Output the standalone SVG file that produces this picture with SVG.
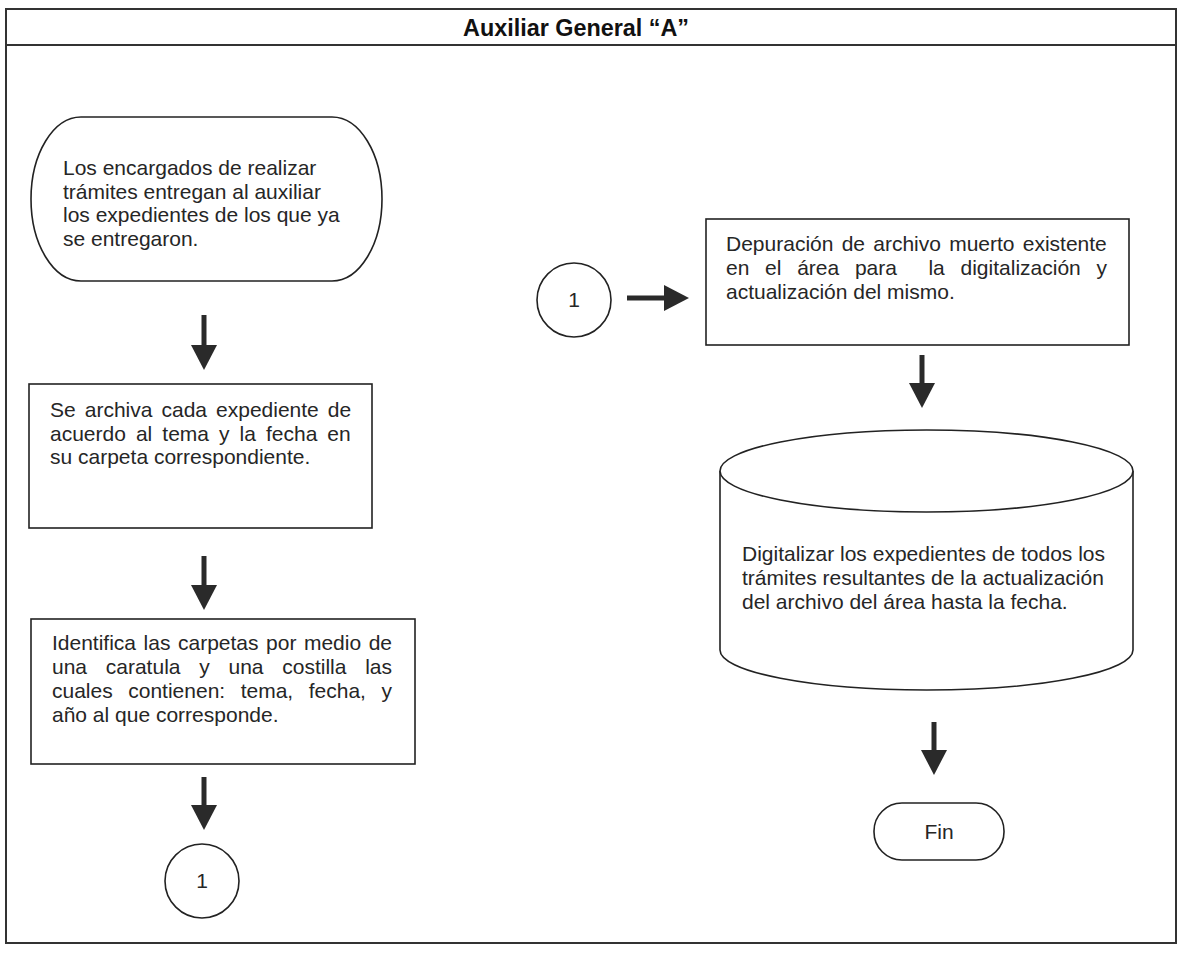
<svg xmlns="http://www.w3.org/2000/svg" width="1179" height="953" viewBox="0 0 1179 953">
  <style>
    .frame { fill: none; stroke: #333; stroke-width: 2; }
    .shape { fill: #fff; stroke: #222; stroke-width: 1.6; }
    .txt { font-family: "Liberation Sans", Arial, sans-serif; font-size: 21px; fill: #262626; }
    .title { font-family: "Liberation Sans", Arial, sans-serif; font-size: 24px; font-weight: bold; fill: #111; }
    .conn { stroke: #2a2a2a; stroke-width: 5; fill: none; }
  </style>
  <defs>
    <marker id="head" markerUnits="userSpaceOnUse" markerWidth="26" markerHeight="26" refX="0" refY="13" orient="auto">
      <path d="M0,0 L25,13 L0,26 Z" fill="#2a2a2a"/>
    </marker>
  </defs>

  <rect width="1179" height="953" fill="#fff"/>

  <!-- outer frame and header band -->
  <g id="frame">
    <rect class="frame" x="6" y="9" width="1170" height="934"/>
    <line class="frame" x1="6" y1="45" x2="1176" y2="45"/>
    <text class="title" x="463" y="36" textLength="226" lengthAdjust="spacingAndGlyphs">Auxiliar General “A”</text>
  </g>

  <!-- connectors -->
  <g id="connectors">
    <line class="conn" x1="204" y1="315" x2="204" y2="345" marker-end="url(#head)"/>
    <line class="conn" x1="204" y1="556" x2="204" y2="585" marker-end="url(#head)"/>
    <line class="conn" x1="204" y1="777" x2="204" y2="805" marker-end="url(#head)"/>
    <line class="conn" x1="627" y1="298" x2="664" y2="298" marker-end="url(#head)"/>
    <line class="conn" x1="922" y1="355" x2="922" y2="383" marker-end="url(#head)"/>
    <line class="conn" x1="934" y1="722" x2="934" y2="750" marker-end="url(#head)"/>
  </g>

  <g id="start">
    <rect class="shape" x="31" y="117" width="351" height="164" rx="50" ry="82"/>
    <text class="txt" x="63" y="175">Los encargados de realizar</text>
    <text class="txt" x="63" y="198.5">trámites entregan al auxiliar</text>
    <text class="txt" x="63" y="222">los expedientes de los que ya</text>
    <text class="txt" x="63" y="245.5">se entregaron.</text>
  </g>

  <g id="archivar">
    <rect class="shape" x="29" y="384" width="343" height="144"/>
    <text class="txt" x="50" y="417" word-spacing="3.2">Se archiva cada expediente de</text>
    <text class="txt" x="50" y="440.5" word-spacing="4.2">acuerdo al tema y la fecha en</text>
    <text class="txt" x="50" y="464">su carpeta correspondiente.</text>
  </g>

  <g id="identificar">
    <rect class="shape" x="31" y="619" width="384" height="145"/>
    <text class="txt" x="52" y="650" word-spacing="1.7">Identifica las carpetas por medio de</text>
    <text class="txt" x="52" y="674" word-spacing="12.9">una caratula y una costilla las</text>
    <text class="txt" x="52" y="698" word-spacing="9.7">cuales contienen: tema, fecha, y</text>
    <text class="txt" x="52" y="722">año al que corresponde.</text>
  </g>

  <g id="conector-salida">
    <circle class="shape" cx="202" cy="881" r="37"/>
    <text class="txt" x="202" y="888" text-anchor="middle">1</text>
  </g>

  <g id="conector-entrada">
    <circle class="shape" cx="574" cy="300" r="37"/>
    <text class="txt" x="574" y="307" text-anchor="middle">1</text>
  </g>

  <g id="depuracion">
    <rect class="shape" x="706" y="219" width="423" height="126"/>
    <text class="txt" x="726" y="251" word-spacing="2.4">Depuración de archivo muerto existente</text>
    <text class="txt" x="726" y="275" word-spacing="9.9" style="white-space: pre">en el área para  la digitalización y</text>
    <text class="txt" x="726" y="299">actualización del mismo.</text>
  </g>

  <g id="digitalizar">
    <path class="shape" d="M720,471 L720,650 A206.5,40 0 0 0 1133,650 L1133,471"/>
    <ellipse class="shape" cx="926.5" cy="471" rx="206.5" ry="41"/>
    <text class="txt" x="742" y="561">Digitalizar los expedientes de todos los</text>
    <text class="txt" x="742" y="585">trámites resultantes de la actualización</text>
    <text class="txt" x="742" y="609">del archivo del área hasta la fecha.</text>
  </g>

  <g id="fin">
    <rect class="shape" x="874" y="803" width="130" height="57" rx="28" ry="28"/>
    <text class="txt" x="939" y="839" text-anchor="middle">Fin</text>
  </g>
</svg>
